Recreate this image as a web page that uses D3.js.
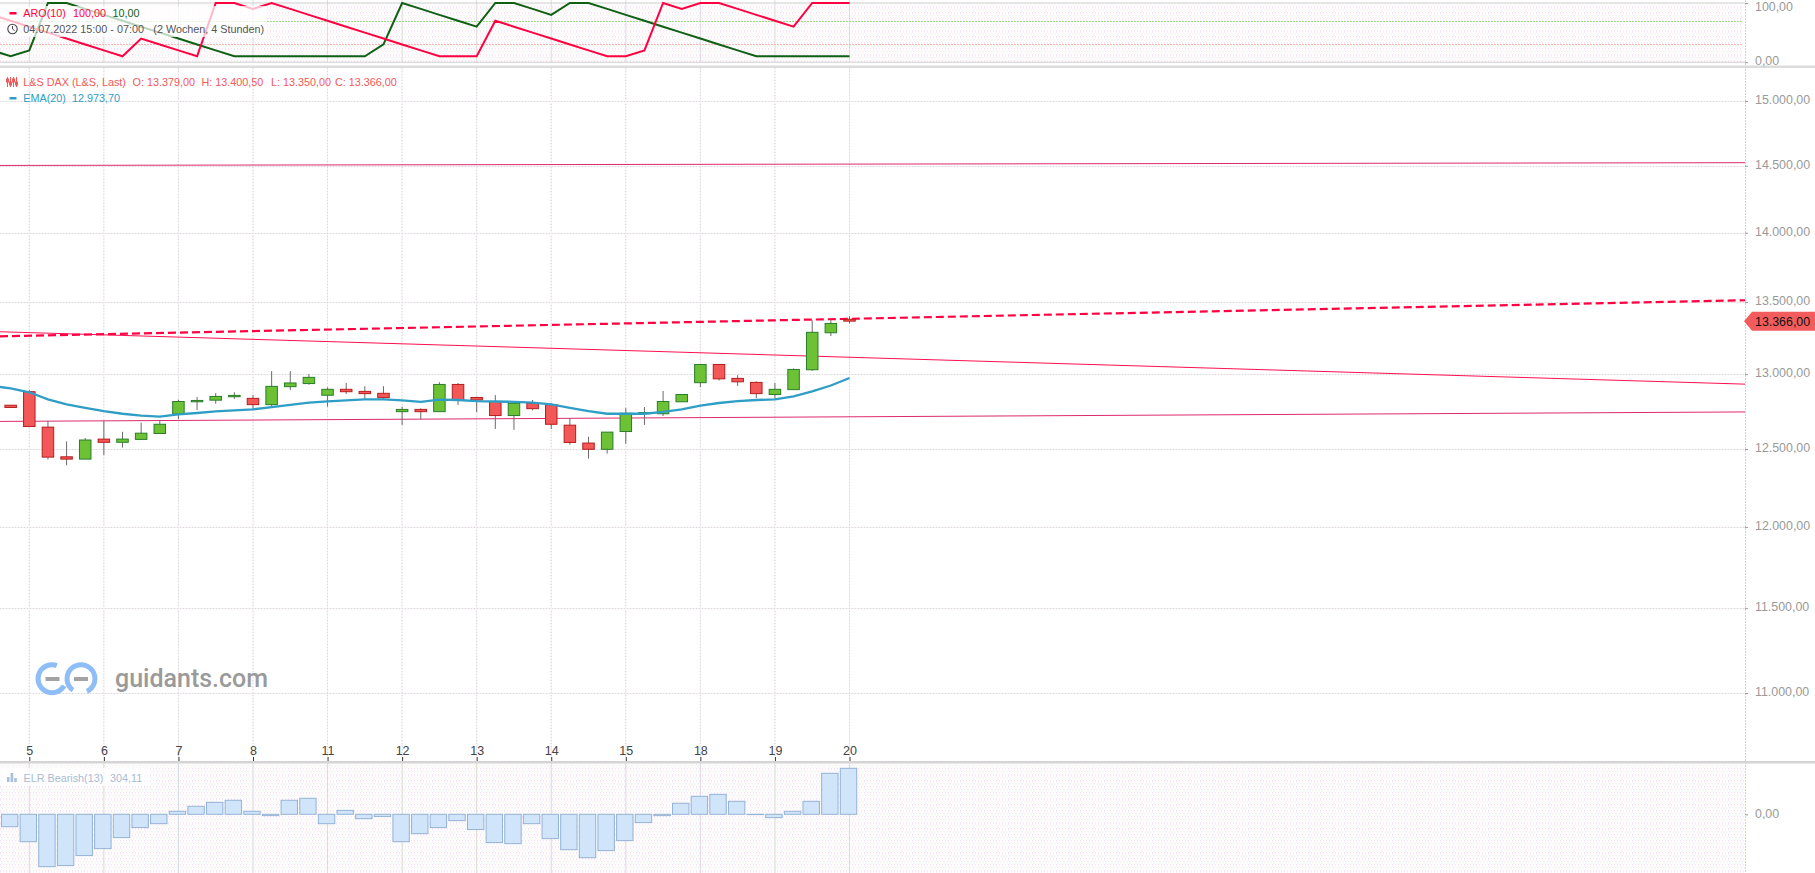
<!DOCTYPE html>
<html>
<head>
<meta charset="utf-8">
<title>L&amp;S DAX</title>
<script src="https://cdn.jsdelivr.net/npm/d3@7"></script>
<style>
html,body{margin:0;padding:0;background:#fff;overflow:hidden}
svg{display:block}
text{font-family:"Liberation Sans",Arial,sans-serif}
</style>
</head>
<body>
<svg id="chart" width="1815" height="873"></svg>
<script>
// candles, one entry per 4h bar
const candleOpen  = [12790,12881,12644,12449,12434,12565,12544,12563,12602,12731,12813,12824,12847,12836,12794,12915,12936,12857,12897,12883,12870,12747,12762,12747,12930,12842,12815,12721,12803,12794,12657,12539,12498,12615,12734,12733,12813,12942,13066,12971,12944,12862,12895,13030,13285,13379]
const candleHigh  = [12790,12892,12685,12550,12572,12685,12613,12674,12692,12827,12845,12872,12877,12858,13021,13021,13000,12910,12940,12918,12918,12780,12769,12945,12940,12847,12858,12803,12825,12803,12703,12580,12611,12771,12778,12886,12862,13066,13066,12993,12951,12940,13039,13372,13378,13400.5]
const candleLow   = [12775,12648,12432,12394,12434,12460,12509,12563,12602,12698,12758,12800,12832,12758,12780,12892,12928,12780,12866,12825,12829,12659,12696,12747,12792,12743,12632,12626,12756,12632,12528,12437,12470,12535,12659,12718,12813,12912,12956,12920,12838,12834,12895,13023,13262,13350]
const candleClose = [12775,12648,12447,12434,12559,12544,12565,12604,12663,12815,12822,12849,12856,12794,12917,12940,12978,12897,12881,12868,12841,12762,12747,12930,12823,12825,12721,12803,12767,12663,12543,12498,12611,12736,12741,12815,12862,13066,12968,12948,12868,12897,13032,13288,13350,13366]

// these three start one bar before the first candle (off the left edge)
const emaValues = [12919,12904,12877,12829,12795,12773,12751,12733,12720,12714,12729,12738,12749,12756,12762,12778,12792,12808,12816,12823,12829,12829,12823,12813,12827,12825,12818,12815,12813,12807,12796,12773,12751,12733,12733,12733,12745,12762,12787,12805,12818,12825,12829,12849,12883,12923,12973.7]
const aroUp   = [80,70,60,50,40,30,20,10,40,30,20,10,100,100,90,100,90,80,70,60,50,40,30,20,10,10,10,70,60,50,40,30,20,10,10,20,100,90,100,100,90,80,70,60,100,100,100]
const aroDown = [20,10,20,100,100,90,80,70,60,50,40,30,20,10,10,10,10,10,10,10,10,30,100,90,80,70,60,100,100,90,80,100,100,90,80,70,60,50,40,30,20,10,10,10,10,10,10]

const elrValues = [-82,-181,-346,-339,-273,-227,-154,-88,-62,20,53,79,93,20,-9,93,106,-62,26,-29,-15,-181,-128,-88,-42,-101,-187,-194,-62,-161,-234,-287,-240,-174,-55,-9,73,119,132,86,-2,-22,20,86,271,304.11]

const tickBars   = [1,5,9,13,17,21,25,29,33,37,41,45]
const tickLabels = ['5','6','7','8','11','12','13','14','15','18','19','20']
const priceTicks = [11000,11500,12000,12500,13000,13500,14000,14500,15000]
const aroTicks = [0,100]
const aroLevels = [70,30]

// trend lines: value at the left edge, value at the price axis
const trendUpper   = [14502,14523]
const trendFalling = [13292,12932]
const trendDashed  = [13260,13513]
const trendLower   = [12682,12745]

const lastClose = 13366

const width = 1815, height = 873, axisX = 1745
const red = '#f25858', redDark = '#b81c1c', green = '#6cc234', greenDark = '#2a7d2a'
const aroRed = '#ff0040', aroGreen = '#0f5f14'

const de = d3.formatLocale({decimal:',',thousands:'.',grouping:[3],currency:['','']})
const fmt = de.format(',.2f')

const svg = d3.select('#chart')

const xScale = d3.scaleLinear().domain([1,45]).range([29.3,849.5])
const yMain = d3.scaleLog().domain([11000,15000]).range([693,101])
const yAro = d3.scaleLinear().domain([0,100]).range([62.2,3])
const yElr = d3.scaleLinear().domain([0,304.11]).range([814.3,768.3])

// speckled background of the indicator panels
const dots = svg.append('defs').append('pattern')
    .attr('id','speckle')
    .attr('width',6).attr('height',6)
    .attr('patternUnits','userSpaceOnUse')
dots.append('rect').attr('width',6).attr('height',6).attr('fill','#fff')
const dotCols = ['#f7dcf2','#d9ecfb','#e0f5dc','#fbeecf']
d3.range(4).forEach(k=>{
    dots.append('rect')
        .attr('x',k*1.5).attr('y',(k%2)*3)
        .attr('width',1).attr('height',1)
        .attr('fill',dotCols[k])
    dots.append('rect')
        .attr('x',(k*1.5+3)%6).attr('y',(k%2)*3+1.5)
        .attr('width',1).attr('height',1)
        .attr('fill',dotCols[(k+2)%4])
})

svg.append('rect').attr('x',0).attr('y',4).attr('width',axisX-3).attr('height',58).attr('fill','url(#speckle)')
svg.append('rect').attr('x',0).attr('y',764).attr('width',axisX).attr('height',109).attr('fill','url(#speckle)')

// panel separators
svg.append('rect').attr('x',0).attr('y',65.5).attr('width',width).attr('height',2.5).attr('fill','#dcdcdc')
svg.append('rect').attr('x',0).attr('y',761).attr('width',width).attr('height',2.5).attr('fill','#d4d4d4')

// grids: pale line with grey dots on top
function dottedGrid(sel,cls,data,attrs){
    ;[['#f5eef5',null],['#d8d8d8','1 2']].forEach((style,k)=>{
        sel.selectAll('line.'+cls+k).data(data).enter().append('line')
            .attr('class',cls+k)
            .attr('x1',attrs.x1).attr('x2',attrs.x2)
            .attr('y1',attrs.y1).attr('y2',attrs.y2)
            .attr('stroke',style[0])
            .attr('stroke-dasharray',style[1])
    })
}

const vGrid = svg.append('g').attr('class','v-grid')
vGrid.selectAll('line.top').data(tickBars).enter().append('line')
    .attr('class','top')
    .attr('x1',d=>xScale(d)).attr('x2',d=>xScale(d))
    .attr('y1',0).attr('y2',62)
    .attr('stroke','#dcdcdc')
dottedGrid(vGrid,'main',tickBars,{x1:d=>xScale(d),x2:d=>xScale(d),y1:68,y2:757})
vGrid.selectAll('line.elr').data(tickBars).enter().append('line')
    .attr('class','elr')
    .attr('x1',d=>xScale(d)).attr('x2',d=>xScale(d))
    .attr('y1',763).attr('y2',height)
    .attr('stroke','#dadada')

dottedGrid(svg.append('g'),'price',priceTicks,{
    x1:0,x2:axisX,
    y1:d=>Math.round(yMain(d))+.5,y2:d=>Math.round(yMain(d))+.5
})

svg.append('g').selectAll('line').data(aroTicks).enter().append('line')
    .attr('x1',0).attr('x2',axisX)
    .attr('y1',d=>yAro(d)).attr('y2',d=>yAro(d))
    .attr('stroke','#cccccc')

svg.append('g').selectAll('line').data(aroLevels).enter().append('line')
    .attr('x1',0).attr('x2',axisX-3)
    .attr('y1',d=>Math.round(yAro(d))+.5).attr('y2',d=>Math.round(yAro(d))+.5)
    .attr('stroke',d=>d==70?'#a4de84':'#f8b8b4')
    .attr('stroke-dasharray','2 1')

// right axis rule
svg.append('line').attr('x1',axisX+.5).attr('x2',axisX+.5).attr('y1',0).attr('y2',height)
    .attr('stroke','#d0d3da').attr('stroke-dasharray','2 1')

// logo
const logo = svg.append('g').attr('class','logo')
const ring = d3.arc().innerRadius(11.5).outerRadius(16.5)
const deg = Math.PI/180
logo.append('path')
    .attr('transform','translate(52,678.7)')
    .attr('d',ring({startAngle:120*deg,endAngle:380*deg}))
    .attr('fill','#8fbdf7')
logo.append('path')
    .attr('transform','translate(81,678.7)')
    .attr('d',ring({startAngle:-145*deg,endAngle:155*deg}))
    .attr('fill','#8fbdf7')
logo.append('rect').attr('x',45.5).attr('y',677).attr('width',14).attr('height',4).attr('fill','#a3a3a3')
logo.append('rect').attr('x',74).attr('y',677).attr('width',14).attr('height',4).attr('fill','#a3a3a3')
logo.append('text')
    .attr('x',115).attr('y',687)
    .style('font-family','Roboto')
    .style('font-weight',500)
    .style('font-size','25px')
    .attr('fill','#9a9a9a')
    .text('guidants.com')

// aroon
const aroLine = d3.line().x((d,i)=>xScale(i-1)).y(d=>yAro(d))
svg.append('path').datum(aroDown).attr('d',aroLine)
    .attr('fill','none').attr('stroke',aroGreen).attr('stroke-width',2)
svg.append('path').datum(aroUp).attr('d',aroLine)
    .attr('fill','none').attr('stroke',aroRed).attr('stroke-width',2)

// trend lines
const edgeBars = [xScale.invert(0),xScale.invert(axisX)]
const trendLine = d3.line().x((d,i)=>xScale(edgeBars[i])).y(d=>yMain(d))
svg.append('path').datum(trendUpper).attr('d',trendLine)
    .attr('fill','none').attr('stroke','#dc2a6c').attr('stroke-width',1)
svg.append('path').datum(trendLower).attr('d',trendLine)
    .attr('fill','none').attr('stroke','#dc2a6c').attr('stroke-width',1)
svg.append('path').datum(trendFalling).attr('d',trendLine)
    .attr('fill','none').attr('stroke','#ff1050').attr('stroke-width',1)
svg.append('path').datum(trendDashed).attr('d',trendLine)
    .attr('fill','none').attr('stroke','#ff0040').attr('stroke-width',2.2).attr('stroke-dasharray','8 4')

// candles
const bars = candleOpen.map((o,i)=>({i:i,o:o,h:candleHigh[i],l:candleLow[i],c:candleClose[i]}))
const candle = svg.append('g').attr('class','candles').selectAll('g').data(bars).enter().append('g')
candle.append('line')
    .attr('x1',d=>xScale(d.i)).attr('x2',d=>xScale(d.i))
    .attr('y1',d=>yMain(d.h)).attr('y2',d=>yMain(d.l))
    .attr('stroke','#6b6b6b')
candle.append('rect')
    .attr('x',d=>xScale(d.i)-5.75)
    .attr('y',d=>yMain(Math.max(d.o,d.c)))
    .attr('width',11.5)
    .attr('height',d=>Math.max(1,yMain(Math.min(d.o,d.c))-yMain(Math.max(d.o,d.c))))
    .attr('fill',d=>d.c>=d.o?green:red)
    .attr('stroke',d=>d.c>=d.o?greenDark:redDark)

// ema on top of the candles
svg.append('path').datum(emaValues)
    .attr('d',d3.line().x((d,i)=>xScale(i-1)).y(d=>yMain(d)))
    .attr('fill','none').attr('stroke','#2f9ec6').attr('stroke-width',2.3)

// elr bars
svg.append('g').selectAll('rect').data(elrValues).enter().append('rect')
    .attr('x',(d,i)=>xScale(i)-9.2)
    .attr('y',d=>d>=0?yElr(d):yElr(0))
    .attr('width',16.4)
    .attr('height',d=>Math.abs(yElr(d)-yElr(0)))
    .attr('fill','#d0e4fa')
    .attr('stroke','#94b2d6')

// axes
const xAxis = svg.append('g')
    .attr('transform','translate(0,761)')
    .call(d3.axisTop(xScale).tickValues(tickBars).tickFormat((d,i)=>tickLabels[i]).tickSize(4).tickPadding(2))
xAxis.select('.domain').remove()
xAxis.selectAll('line').attr('stroke','#333')
xAxis.selectAll('text').style('font-size','12.5px').attr('fill','#444')

function rightAxis(scale,ticks){
    const g = svg.append('g')
        .attr('transform','translate('+axisX+',0)')
        .call(d3.axisRight(scale).tickValues(ticks).tickFormat(fmt).tickSize(3).tickPadding(7))
    g.select('.domain').remove()
    g.selectAll('line').attr('stroke','#999')
    g.selectAll('text').style('font-size','12.4px').attr('fill','#999').attr('dy','.22em')
    return g
}
rightAxis(yMain,priceTicks)
// the 100,00 label sits at the very top, nudged down so it stays on the page
rightAxis(yAro,aroTicks).selectAll('text').attr('dy',d=>d==100?'.62em':'.22em')
rightAxis(yElr,[0])

// last price tag
const tagY = yMain(lastClose)
svg.append('path')
    .attr('d',d3.line()([[axisX-1,tagY],[axisX+7,tagY-9.5],[width,tagY-9.5],[width,tagY+9.5],[axisX+7,tagY+9.5]])+'Z')
    .attr('fill','#f25c5c')
svg.append('text')
    .attr('x',axisX+10).attr('y',tagY+4.4)
    .style('font-size','12.4px').attr('fill','#111')
    .text(fmt(lastClose))

// legends
svg.append('rect').attr('x',0).attr('y',6).attr('width',266).attr('height',31).attr('fill','#fff').attr('fill-opacity',.72)
svg.append('rect').attr('x',0).attr('y',768).attr('width',150).attr('height',18).attr('fill','#fff').attr('fill-opacity',.75)

function legendText(x,y,txt,col){
    svg.append('text').attr('x',x).attr('y',y)
        .style('font-size','10.8px').attr('fill',col).text(txt)
}
svg.append('rect').attr('x',9.5).attr('y',12).attr('width',7).attr('height',2.5).attr('fill',aroRed)
legendText(23.3,17,'ARO(10)',aroRed)
legendText(73,17,'100,00',aroRed)
legendText(112.5,17,'10,00',aroGreen)

const clock = svg.append('g').attr('transform','translate(12.5,29)')
clock.append('circle').attr('r',4.7).attr('fill','none').attr('stroke','#444').attr('stroke-width',1.1)
clock.append('path').attr('d','M0,-3V0L2,1.5').attr('fill','none').attr('stroke','#444')
legendText(23.3,33,'04.07.2022 15:00 - 07:00','#555')
legendText(153.3,33,'(2 Wochen, 4 Stunden)','#555')

const candleIcon = svg.append('g').attr('stroke',red).attr('fill',red)
d3.range(4).forEach(k=>{
    candleIcon.append('line').attr('x1',7.5+k*3).attr('x2',7.5+k*3).attr('y1',77).attr('y2',87)
    candleIcon.append('rect').attr('x',6.5+k*3).attr('y',79+(k%2)*3).attr('width',2).attr('height',3)
})
legendText(23.3,86,'L&S DAX (L&S, Last)',red)
legendText(132.5,86,'O: 13.379,00',red)
legendText(201.5,86,'H: 13.400,50',red)
legendText(271,86,'L: 13.350,00',red)
legendText(335,86,'C: 13.366,00',red)

svg.append('rect').attr('x',9.5).attr('y',97).attr('width',7).attr('height',2.5).attr('fill','#2f9ec6')
legendText(23.3,102,'EMA(20)','#2f9ec6')
legendText(72,102,'12.973,70','#2f9ec6')

const elrIcon = svg.append('g').attr('fill','#a9c0dc')
;[5,9,4].forEach((h,k)=>{
    elrIcon.append('rect').attr('x',7+k*3.6).attr('y',782-h).attr('width',2.6).attr('height',h)
})
legendText(23.5,781.5,'ELR Bearish(13)','#a9bcd3')
legendText(110,781.5,'304,11','#a9bcd3')
</script>
</body>
</html>
